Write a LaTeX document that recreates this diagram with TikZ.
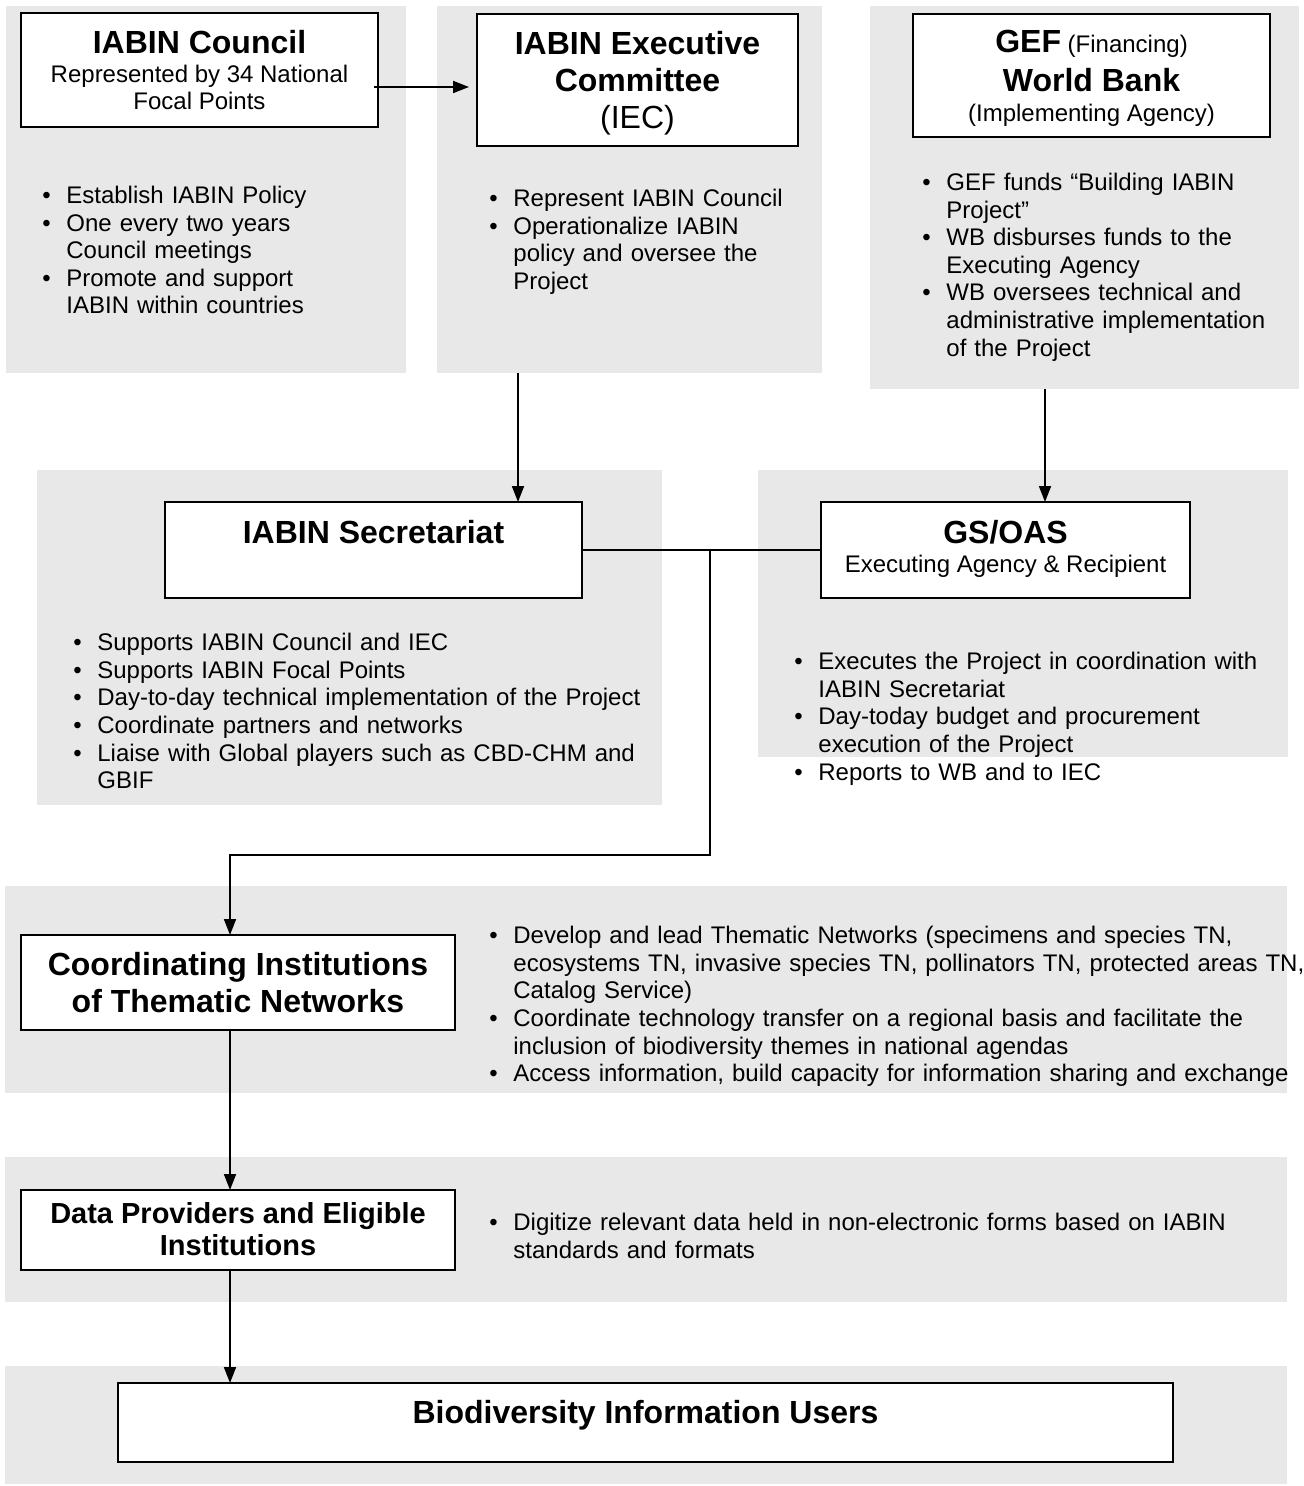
\documentclass[tikz,border=0pt]{standalone}
\usepackage{fontspec}
\setmainfont{Liberation Sans}
\usetikzlibrary{arrows.meta,positioning}
\definecolor{panelgray}{RGB}{232,232,232}
\newcommand{\titlefont}{\fontsize{16}{18.4}\selectfont\bfseries}
\newcommand{\bodyfont}{\fontsize{12}{13.8}\selectfont}
\newlength{\bulwd}\setlength{\bulwd}{12pt}
\newcommand{\bul}[1]{\par\noindent\hangindent=\bulwd\hangafter=1\makebox[\bulwd][l]{\textbullet}#1\par}
\tikzset{
    %Define standard arrow tip
    >={Triangle[length=8pt,width=6pt]},
    %Define style for the grey panels
    panel/.style={
           fill=panelgray,
           inner sep=0pt,
           outer sep=0pt,
           anchor=north west},
    %Define style for boxes
    orgbox/.style={
           draw,
           fill=white,
           line width=1pt,
           inner sep=0pt,
           outer sep=0pt,
           align=center,
           anchor=north west,
           font=\bodyfont},
    %Define style for bullet lists
    tasks/.style={
           inner sep=0pt,
           anchor=base west,
           align=left,
           font=\bodyfont,
           text width=#1},
    % Define arrow style
    flow/.style={
           ->,
           line width=0.9pt},
    link/.style={
           line width=0.9pt}
}

\begin{document}
\begin{tikzpicture}[x=0.5pt, y=-0.5pt]
 \useasboundingbox (0,0) rectangle (1304,1486);

 % grey panels
 \node [panel, minimum width=200pt, minimum height=183.5pt] (councilpanel) at (6,6) {};
 \node [panel, minimum width=192.5pt, minimum height=183.5pt] (iecpanel) at (437,6) {};
 \node [panel, minimum width=214.5pt, minimum height=191.5pt] (gefpanel) at (870,6) {};
 \node [panel, minimum width=312.5pt, minimum height=167.5pt] (secrpanel) at (37,470) {};
 \node [panel, minimum width=265pt, minimum height=143.5pt] (gsoaspanel) at (758,470) {};
 \node [panel, minimum width=641pt, minimum height=103.5pt] (coordpanel) at (5,886) {};
 \node [panel, minimum width=641pt, minimum height=72.5pt] (datapanel) at (5,1157) {};
 \node [panel, minimum width=641pt, minimum height=59pt] (userspanel) at (5,1366) {};

 % top row
 \node [orgbox, minimum width=178.5pt, text height=48.5pt, text depth=8.5pt] (council) at (21,13)
 {{\titlefont IABIN Council}\\[0.7pt] Represented by 34 National\\ Focal Points};
 \node [tasks=179pt] (councillist) at (42,176)
 {\bul{Establish IABIN Policy}
  \bul{One every two years\newline Council meetings}
  \bul{Promote and support\newline IABIN within countries}};

 \node [orgbox, minimum width=160.5pt, text height=57.3pt, text depth=8.7pt, font=\titlefont] (iec) at (477,14)
 {IABIN Executive\\ Committee\\ {\mdseries (IEC)}};
 \node [tasks=160pt] (ieclist) at (489,179)
 {\bul{Represent IABIN Council}
  \bul{Operationalize IABIN\newline policy and oversee the\newline Project}};

 \node [orgbox, minimum width=178.5pt, text height=54pt, text depth=7.5pt] (gef) at (913,14)
 {{\titlefont GEF} (Financing)\\[4.7pt] {\titlefont World Bank}\\[1.2pt] (Implementing Agency)};
 \node [tasks=185pt] (geflist) at (922,163)
 {\bul{GEF funds “Building IABIN\newline Project”}
  \bul{WB disburses funds to the\newline Executing Agency}
  \bul{WB oversees technical and\newline administrative implementation\newline of the Project}};

 % middle row
 \node [orgbox, minimum width=208.5pt, text height=20.5pt, text depth=27.5pt, font=\titlefont] (secr) at (165,502)
 {IABIN Secretariat};
 \node [tasks=290pt] (secrlist) at (73,623)
 {\bul{Supports IABIN Council and IEC}
  \bul{Supports IABIN Focal Points}
  \bul{Day-to-day technical implementation of the Project}
  \bul{Coordinate partners and networks}
  \bul{Liaise with Global players such as CBD-CHM and\newline GBIF}};

 \node [orgbox, minimum width=184.5pt, text height=35pt, text depth=13pt] (gsoas) at (821,502)
 {{\titlefont GS/OAS}\\[0.7pt] Executing Agency \& Recipient};
 \node [tasks=240pt] (gsoaslist) at (794,642)
 {\bul{Executes the Project in coordination with\newline IABIN Secretariat}
  \bul{Day-today budget and procurement\newline execution of the Project}
  \bul{Reports to WB and to IEC}};

 % thematic networks and data providers
 \node [orgbox, minimum width=217pt, text height=38.5pt, text depth=9pt, font=\titlefont] (coord) at (21,935)
 {Coordinating Institutions\\ of Thematic Networks};
 \node [tasks=410pt] (coordlist) at (489,916)
 {\bul{Develop and lead Thematic Networks (specimens and species TN,\newline ecosystems TN, invasive species TN, pollinators TN, protected areas TN,\newline Catalog Service)}
  \bul{Coordinate technology transfer on a regional basis and facilitate the\newline inclusion of biodiversity themes in national agendas}
  \bul{Access information, build capacity for information sharing and exchange}};

 \node [orgbox, minimum width=217pt, text height=32.5pt, text depth=7.5pt, font=\fontsize{14.5}{16}\selectfont\bfseries] (data) at (21,1190)
 {Data Providers and Eligible\\ Institutions};
 \node [tasks=400pt] (datalist) at (489,1203)
 {\bul{Digitize relevant data held in non-electronic forms based on IABIN\newline standards and formats}};

 % users
 \node [orgbox, minimum width=527.5pt, text height=20pt, text depth=19.5pt, font=\titlefont] (users) at (118,1383)
 {Biodiversity Information Users};

 % paths
 \coordinate (iecdrop) at (518,373);
 \coordinate (gefdrop) at (1045,389);
 \coordinate (junc) at (710,550);
 \coordinate (spine) at (230,855);
 \draw [flow, shorten <=-2pt, shorten >=4pt] ([yshift=-8.5pt]council.east) -- ([yshift=-8.5pt]council.east -| iec.west);
 \draw [flow] (iecdrop) -- (iecdrop |- secr.north);
 \draw [flow] (gefdrop) -- (gefdrop |- gsoas.north);
 \draw [link] (secr.east) -- (gsoas.west);
 \draw [flow] (junc) |- (spine) -- (spine |- coord.north);
 \draw [flow] (spine |- coord.south) -- (spine |- data.north);
 \draw [flow] (spine |- data.south) -- (spine |- users.north);
\end{tikzpicture}
\end{document}
